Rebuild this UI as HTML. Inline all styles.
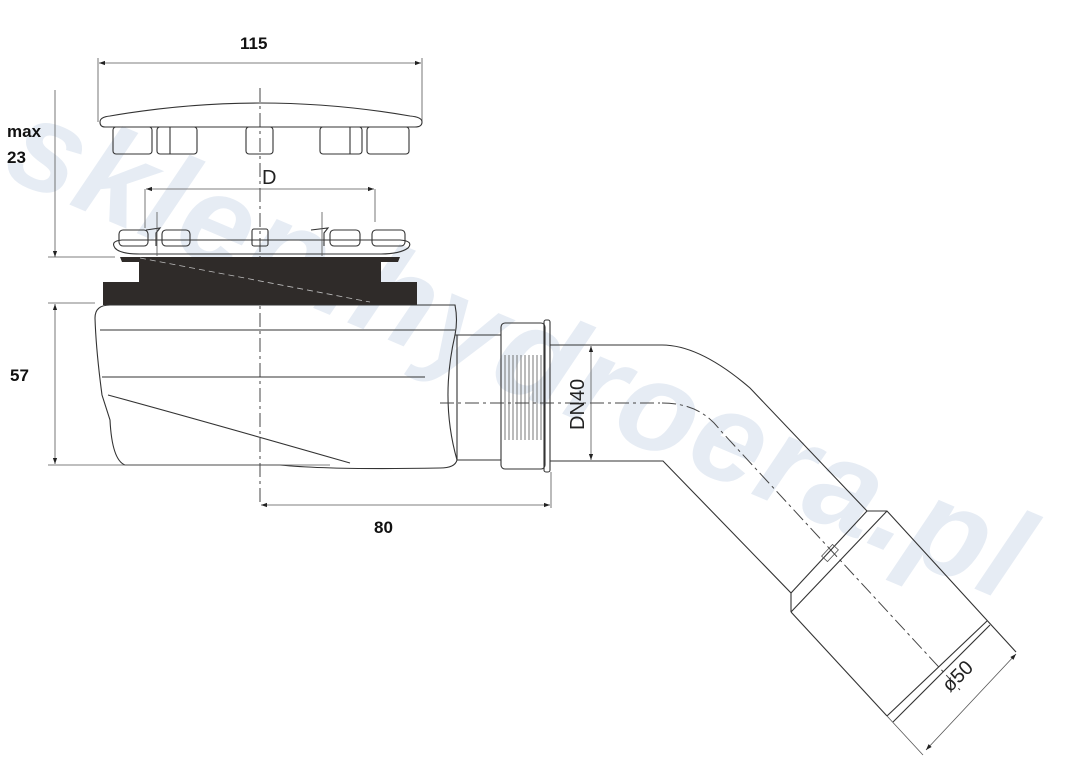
<!DOCTYPE html>
<html><head><meta charset="utf-8"><style>
html,body{margin:0;padding:0;background:#fff}
svg{display:block}
.l{fill:none;stroke:#333;stroke-width:1.1}
.t{fill:none;stroke:#555;stroke-width:0.8}
.d{fill:none;stroke:#444;stroke-width:1;stroke-dasharray:14 4 3 4}
.b{font-family:"Liberation Sans",sans-serif;font-weight:bold;font-size:17px;fill:#111}
.n{font-family:"Liberation Sans",sans-serif;font-size:20px;fill:#222}
</style></head><body>
<svg width="1065" height="757" viewBox="0 0 1065 757" xmlns="http://www.w3.org/2000/svg">
<defs>
<marker id="a" viewBox="0 0 10 10" refX="10" refY="5" markerWidth="10" markerHeight="6" orient="auto-start-reverse" markerUnits="userSpaceOnUse"><path d="M0,1.5 L10,5 L0,8.5z" fill="#222"/></marker>
</defs>
<!-- watermark -->
<text x="0" y="0" transform="translate(0,175) rotate(23)" font-family="Liberation Sans,sans-serif" font-weight="bold" font-style="italic" font-size="128" fill="#e6ecf4" letter-spacing="2">sklep.hydroera.pl</text>

<!-- centre line -->
<line x1="260" y1="88" x2="260" y2="505" class="d"/>

<!-- 115 dim -->
<line x1="98" y1="58" x2="98" y2="122" class="t"/>
<line x1="422" y1="58" x2="422" y2="122" class="t"/>
<line x1="99" y1="63" x2="421" y2="63" class="t" marker-start="url(#a)" marker-end="url(#a)"/>
<text x="240" y="49" class="b">115</text>

<!-- cap -->
<path d="M100,122 Q100,117 110,116 Q260,90 410,116 Q422,117 422,122 Q422,127 415,127 L105,127 Q100,127 100,122z" class="l"/>
<g class="l">
<rect x="113" y="127" width="39" height="27" rx="3"/>
<rect x="157" y="127" width="40" height="27" rx="3"/>
<line x1="170" y1="127" x2="170" y2="154"/>
<rect x="246" y="127" width="27" height="27" rx="3"/>
<rect x="320" y="127" width="42" height="27" rx="3"/>
<line x1="350" y1="127" x2="350" y2="154"/>
<rect x="367" y="127" width="42" height="27" rx="3"/>
</g>

<!-- D dim -->
<line x1="145" y1="189" x2="145" y2="228" class="t"/>
<line x1="375" y1="189" x2="375" y2="222" class="t"/>
<line x1="146" y1="189" x2="374" y2="189" class="t" marker-start="url(#a)" marker-end="url(#a)"/>
<text x="262" y="184" class="n" font-size="19">D</text>

<!-- grate -->
<g class="l">
<path d="M115,248 Q110,241 122,240 L400,240 Q414,241 408,248 Q400,254 380,254 L140,254 Q120,254 115,248z"/>
<rect x="119" y="230" width="29" height="16" rx="4"/>
<path d="M146,230 L160,228 L156,233 L156,246"/>
<rect x="162" y="230" width="28" height="16" rx="4"/>
<rect x="252" y="229" width="16" height="17" rx="2"/>
<path d="M311,230 L328,228 L324,233 L324,246"/>
<rect x="330" y="230" width="30" height="16" rx="4"/>
<rect x="372" y="230" width="33" height="16" rx="4"/>
</g>
<line x1="157" y1="212" x2="157" y2="256" class="t"/>
<line x1="322" y1="212" x2="322" y2="256" class="t"/>

<!-- black gasket -->
<path d="M120,257 L400,257 L398,262 L381,262 L381,282 L417,282 L417,305 L103,305 L103,282 L139,282 L139,262 L122,262z" fill="#2f2b29"/>
<line x1="140" y1="258" x2="370" y2="302" stroke="#bbb" stroke-dasharray="6 4" stroke-width="0.8"/>

<!-- body -->
<path d="M95,318 Q95,305 110,305 L455,305 Q458,320 455,335 L457,335 L457,460 Q455,468 440,468 Q330,470 280,465 L125,465 Q112,460 110,420 L102,395 Q96,350 95,318z" class="l"/>
<line x1="100" y1="330" x2="455" y2="330" class="l"/>
<line x1="102" y1="377" x2="425" y2="377" class="l"/>
<path d="M108,395 Q200,420 350,463" class="l"/>
<path d="M455,335 Q440,400 457,460" class="l"/>
<line x1="457" y1="335" x2="501" y2="335" class="l"/>
<line x1="457" y1="460" x2="501" y2="460" class="l"/>

<!-- nut -->
<rect x="501" y="323" width="44" height="146" rx="4" class="l"/>
<rect x="544" y="320" width="6" height="152" rx="2" class="l"/>
<g stroke="#555" stroke-width="0.8">
<line x1="505" y1="355" x2="505" y2="440"/><line x1="509" y1="355" x2="509" y2="440"/><line x1="513" y1="355" x2="513" y2="440"/><line x1="517" y1="355" x2="517" y2="440"/><line x1="521" y1="355" x2="521" y2="440"/><line x1="525" y1="355" x2="525" y2="440"/><line x1="529" y1="355" x2="529" y2="440"/><line x1="533" y1="355" x2="533" y2="440"/><line x1="537" y1="355" x2="537" y2="440"/><line x1="541" y1="355" x2="541" y2="440"/>
</g>
<line x1="440" y1="403" x2="660" y2="403" class="d"/>

<!-- bent pipe -->
<path d="M550,345 L662,345 Q700,345 750,388 L867,511" class="l"/>
<path d="M550,461 L663,461 L791,593 L791,612" class="l"/>
<path d="M662,403 Q700,403 720,430 L960,690" class="d"/>
<path d="M867,511 L887,511 L1016,652" class="l"/>
<path d="M867,511 L791,593" class="l"/>
<path d="M887,511 L791,612" class="l"/>
<path d="M791,612 L887,716" class="l"/>
<path d="M887,716 L987,621" class="l"/>
<path d="M893,722 L990,625" class="l"/>
<rect x="826" y="545" width="8" height="16" transform="rotate(43 830 553)" class="t"/>

<!-- DN40 dim -->
<line x1="591" y1="346" x2="591" y2="460" class="t" marker-start="url(#a)" marker-end="url(#a)"/>
<text x="0" y="0" transform="translate(584,430) rotate(-90)" class="n" font-size="20">DN40</text>

<!-- Ø50 dim -->
<line x1="887" y1="716" x2="923" y2="755" class="t"/>
<line x1="926" y1="750" x2="1016" y2="654" class="t" marker-start="url(#a)" marker-end="url(#a)"/>
<text x="0" y="0" transform="translate(950,693) rotate(-45)" class="n" font-size="20">ø50</text>

<!-- 80 dim -->
<line x1="551" y1="472" x2="551" y2="508" class="t"/>
<line x1="261" y1="505" x2="550" y2="505" class="t" marker-start="url(#a)" marker-end="url(#a)"/>
<text x="374" y="533" class="b">80</text>

<!-- left dims -->
<line x1="55" y1="90" x2="55" y2="257" class="t" marker-end="url(#a)"/>
<line x1="48" y1="257" x2="115" y2="257" class="t"/>
<line x1="48" y1="303" x2="95" y2="303" class="t"/>
<line x1="55" y1="304" x2="55" y2="464" class="t" marker-start="url(#a)" marker-end="url(#a)"/>
<line x1="48" y1="465" x2="330" y2="465" class="t"/>
<text x="7" y="137" class="b">max</text>
<text x="7" y="163" class="b">23</text>
<text x="10" y="381" class="b">57</text>
</svg>
</body></html>
